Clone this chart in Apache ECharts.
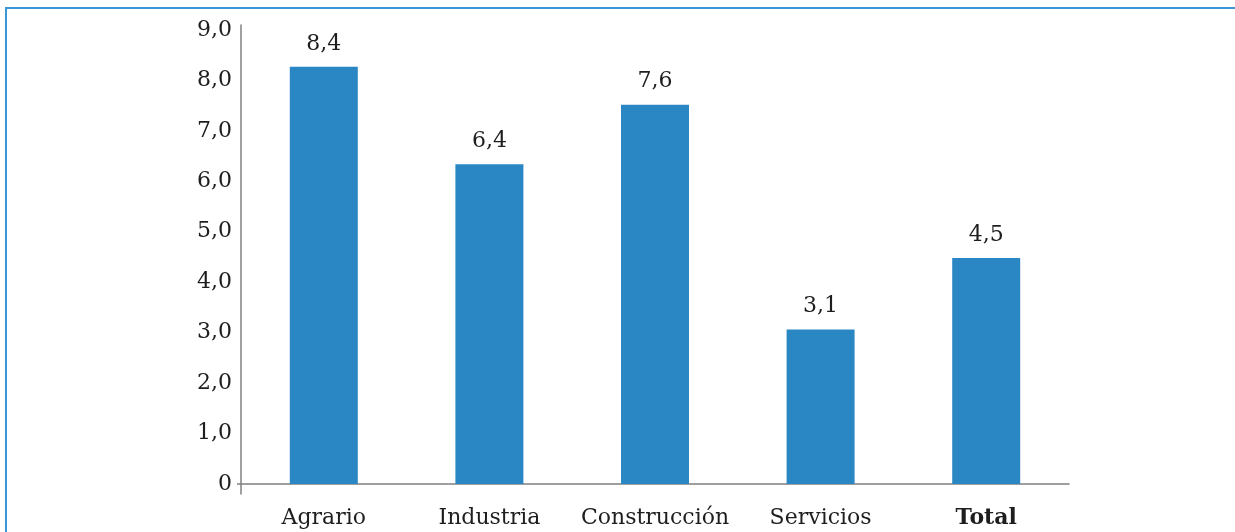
<!DOCTYPE html>
<html>
<head>
<meta charset="utf-8">
<script src="https://cdn.jsdelivr.net/npm/echarts@6/dist/echarts.min.js"></script>
<style>
  html, body { margin: 0; padding: 0; background: #fff; }
  #frame {
    position: absolute; left: 5px; top: 7px; right: 0; bottom: 0;
    border-top: 2px solid #3a98d6; border-left: 2px solid #3a98d6;
  }
  #chart { position: absolute; left: 0; top: 0; width: 1235px; height: 532px; }
</style>
</head>
<body>
<div id="frame"></div>
<div id="chart"></div>
<script>
// categorías del eje X
const categories = ['Agrario', 'Industria', 'Construcción', 'Servicios', 'Total']
// altura de las barras tal como se ven en el gráfico
const barValues = [8.27, 6.34, 7.52, 3.06, 4.48]
// rótulos impresos sobre cada barra
const barLabels = ['8,4', '6,4', '7,6', '3,1', '4,5']
// marcas del eje Y
const yTicks = [0, 1, 2, 3, 4, 5, 6, 7, 8, 9]

const FONT = '"DejaVu Serif", serif'
const TEXT = '#1e1e1e'
const AXIS = '#808080'

const chart = echarts.init(document.getElementById('chart'))

chart.setOption({
  animation: false,
  grid: { left: 241, right: 166, top: 25, bottom: 38, containLabel: false },
  xAxis: {
    type: 'category',
    data: categories,
    axisLine: { onZero: true, lineStyle: { color: AXIS, width: 1.5 } },
    axisTick: { show: false },
    axisLabel: {
      interval: 0,
      margin: 13,
      color: TEXT,
      fontFamily: FONT,
      fontSize: 22,
      formatter: (v) => (v === 'Total' ? '{b|' + v + '}' : v),
      rich: { b: { fontWeight: 'bold', fontFamily: FONT, fontSize: 22, color: TEXT } }
    }
  },
  yAxis: {
    type: 'value',
    min: -0.2,
    max: 9.1,
    splitLine: { show: false },
    axisLine: { show: true, lineStyle: { color: AXIS, width: 1.5 } },
    axisTick: { show: true, customValues: [0], length: 4, lineStyle: { color: AXIS, width: 1.5 } },
    axisLabel: {
      customValues: yTicks,
      margin: 9,
      color: TEXT,
      fontFamily: FONT,
      fontSize: 22,
      formatter: (v) => (v === 0 ? '0' : v.toFixed(1).replace('.', ','))
    }
  },
  series: [
    {
      type: 'bar',
      data: barValues,
      barWidth: 68,
      itemStyle: { color: '#2a87c3' },
      label: {
        show: true,
        position: 'top',
        distance: 12,
        color: TEXT,
        fontFamily: FONT,
        fontSize: 22,
        formatter: (p) => barLabels[p.dataIndex]
      }
    }
  ]
})
</script>
</body>
</html>
